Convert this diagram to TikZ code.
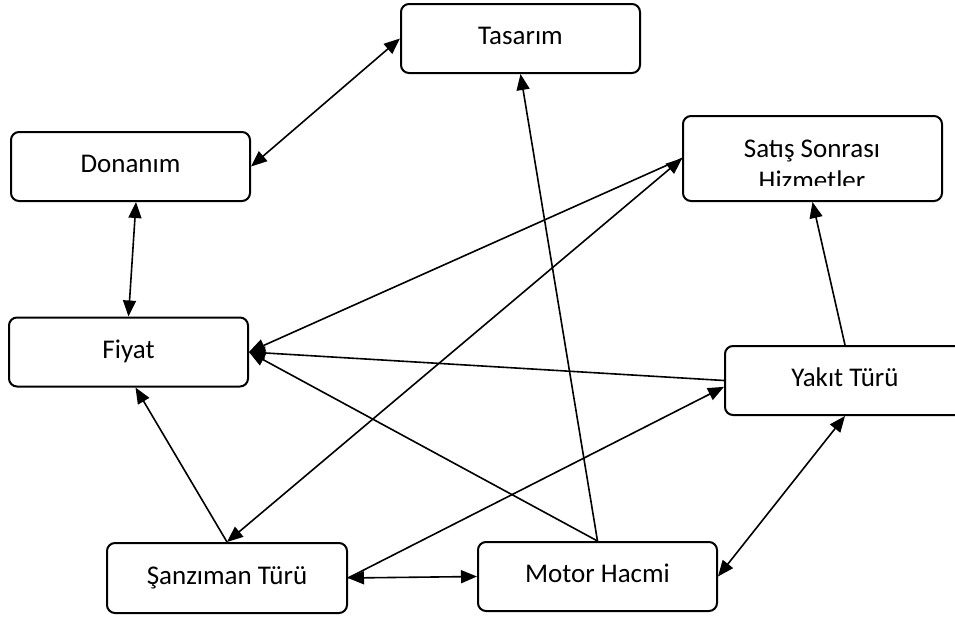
\documentclass[tikz,border=0pt]{standalone}
\usepackage{fontspec}
\setmainfont{Carlito}
\usetikzlibrary{arrows.meta}

\tikzset{
  kutu/.style={draw, line width=1pt, rounded corners=4pt, minimum width=119.5pt,
    minimum height=34.5pt, inner sep=0pt, text height=9.5pt, text depth=3.5pt,
    font=\fontsize{13.5}{16}\selectfont},
  ok/.style={line width=0.8pt, -{Triangle[length=8pt,width=6.5pt]}},
  cok/.style={line width=0.8pt, {Triangle[length=8pt,width=6.5pt]}-{Triangle[length=8pt,width=6.5pt]}},
}

\begin{document}
\begin{tikzpicture}[x=0.5pt,y=-0.5pt]

	\clip (0,0) rectangle (955,617);

	\node [kutu] (tas) at (520.5,38.5) {Tasarım};
	\node [kutu] (don) at (130.5,166.5) {Donanım};
	\node [kutu, minimum width=129.5pt, minimum height=42.5pt] (sat) at (812.5,158.5) {};
	\node [kutu] (fiy) at (128.5,352) {Fiyat};
	\node [kutu, minimum width=120pt] (yak) at (845,380.5) {Yakıt Türü};
	\node [kutu, minimum width=120pt, minimum height=35pt] (san) at (227,578) {Şanzıman Türü};
	\node [kutu] (mot) at (597.5,576.5) {Motor Hacmi};

	% ikinci satir kutuya sigmiyor
	\begin{scope}
	\clip (683,116) rectangle (942,185);
	\node [font=\fontsize{13.5}{16}\selectfont, anchor=base] (sat1) at (812,157) {Satış Sonrası};
	\node [font=\fontsize{13.5}{16}\selectfont, anchor=base] (sat2) at (812,189) {Hizmetler};
	\end{scope}

	\draw [cok] (don.east) -- (tas.west);
	\draw [cok] ([xshift=2.75pt]don.south) -- (fiy.north);
	\draw [ok] (sat.west) -- (fiy.east);
	\draw [cok] (san.north) -- (sat.west);
	\draw [ok] (yak.west) -- (fiy.east);
	\draw [ok] (mot.north) -- (fiy.east);
	\draw [ok] (mot.north) -- (tas.south);
	\draw [ok] (san.east) -- (yak.183);
	\draw [cok] (san.east) -- (mot.west);
	\draw [ok] (yak.north) -- (sat.south);
	\draw [cok] (mot.east) -- (yak.south);
	\draw [ok] (san.north) -- ([xshift=3.5pt]fiy.south);

\end{tikzpicture}
\end{document}
